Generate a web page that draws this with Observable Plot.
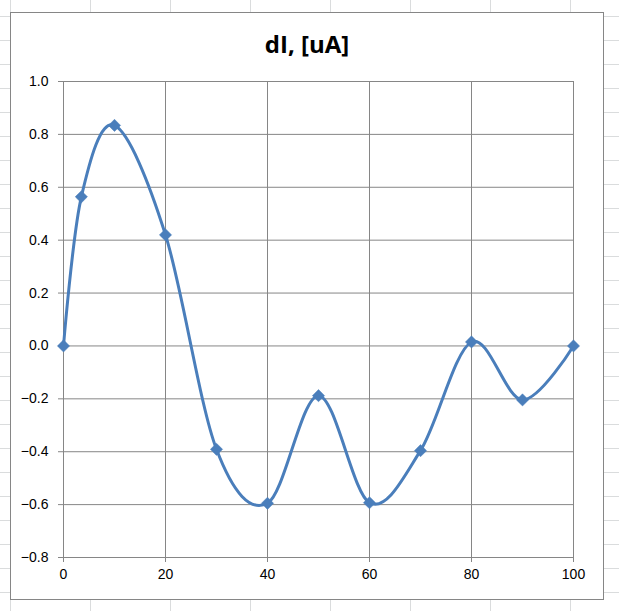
<!DOCTYPE html>
<html>
<head>
<meta charset="utf-8">
<script src="https://cdn.jsdelivr.net/npm/d3@7"></script>
<script src="https://cdn.jsdelivr.net/npm/@observablehq/plot@0.6"></script>
<style>
  html, body { margin: 0; padding: 0; }
  body {
    width: 619px; height: 611px; overflow: hidden; position: relative;
    background-color: #ffffff;
    background-image:
      repeating-linear-gradient(to right, transparent 0 10px, #dadcdd 10px 11px, transparent 11px 80px),
      repeating-linear-gradient(to bottom, transparent 0 20px, #dadcdd 20px 21px, transparent 21px 24px);
    background-size: 80px 100%, 100% 24px;
    background-position: 0 0, 0 -4px;
  }
  #box {
    position: absolute; left: 10px; top: 12px; width: 592px; height: 586px;
    background: #ffffff; border: 1px solid #868686;
  }
  #title {
    position: absolute; left: 10px; width: 594px; top: 29px; text-align: center;
    font-family: "Open Sans", Lato, sans-serif; font-weight: bold; font-size: 24px;
    color: #000; line-height: 30px;
  }
  #chart { position: absolute; left: 0; top: 0; }
</style>
</head>
<body>
<div id="box"></div>
<div id="title">dI, [uA]</div>
<div id="chart"></div>
<script>
const xValues = [0, 3.5, 10, 20, 30, 40, 50, 60, 70, 80, 90, 100];
const yValues = [0.0, 0.564, 0.834, 0.42, -0.391, -0.595, -0.188, -0.593, -0.396, 0.015, -0.204, 0.0];
const xTicks = [0, 20, 40, 60, 80, 100];
const yTicks = [-0.8, -0.6, -0.4, -0.2, 0.0, 0.2, 0.4, 0.6, 0.8, 1.0];

const data = xValues.map((x, i) => ({x, y: yValues[i]}));
const blue = "#4a7ebb";
const grid = "#868686";

const plot = Plot.plot({
  width: 619,
  height: 611,
  marginLeft: 63,
  marginRight: 46,
  marginTop: 81,
  marginBottom: 54,
  style: {background: "transparent", fontFamily: "'Liberation Sans', Arial, sans-serif", fontSize: "14px", color: "#000"},
  x: {domain: [0, 100], ticks: xTicks},
  y: {domain: [-0.8, 1.0], ticks: yTicks},
  marks: [
    Plot.gridX(xTicks, {stroke: grid, strokeOpacity: 1, strokeWidth: 1}),
    Plot.gridY(yTicks, {stroke: grid, strokeOpacity: 1, strokeWidth: 1}),
    Plot.axisX({ticks: xTicks, tickSize: 5, tickPadding: 7, stroke: grid, label: null, tickFormat: d3.format("d"), fill: "#000", fontSize: 14}),
    Plot.axisY({ticks: yTicks, tickSize: 5, tickPadding: 10, stroke: grid, label: null, tickFormat: d3.format(".1f"), fill: "#000", fontSize: 14}),
    Plot.lineY(data, {x: "x", y: "y", curve: "cardinal", stroke: blue, strokeWidth: 3}),
    Plot.dot(data, {x: "x", y: "y", symbol: "diamond2", r: 5.5, fill: blue, stroke: blue, strokeWidth: 0.5})
  ]
});
document.getElementById("chart").appendChild(plot);
</script>
</body>
</html>
